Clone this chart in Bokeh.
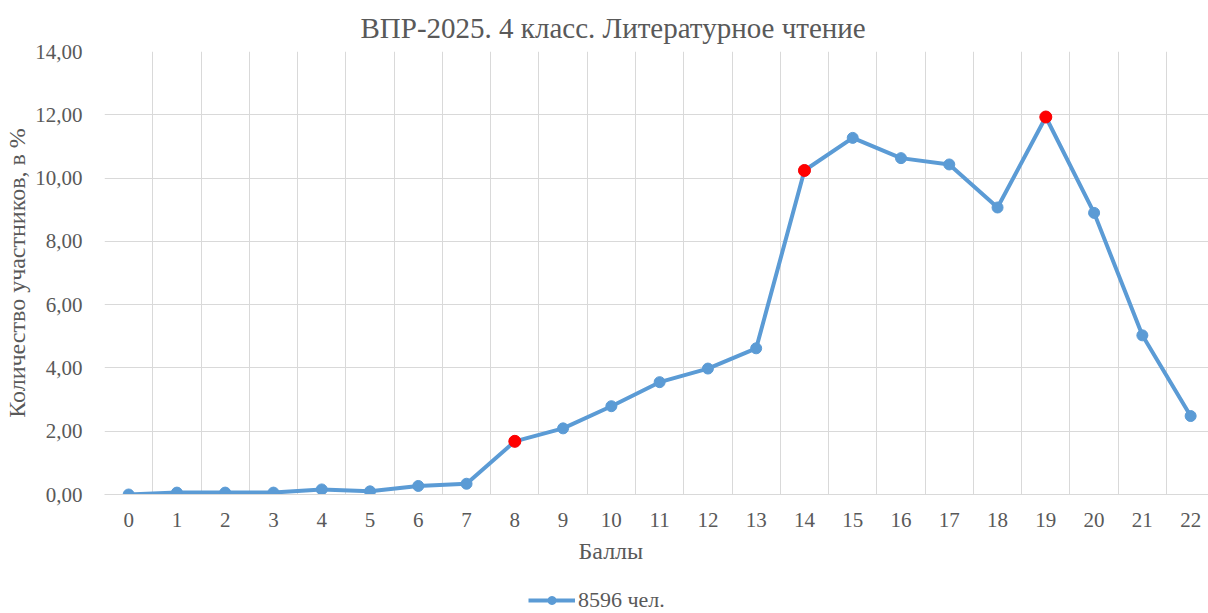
from bokeh.plotting import figure
from bokeh.layouts import column
from bokeh.models import (FixedTicker, CustomJSTickFormatter, Range1d, Legend,
                          LegendItem, ColumnDataSource, Title)
from bokeh.embed import file_html
from bokeh.resources import INLINE

scores = list(range(23))
percent = [0.00, 0.06, 0.06, 0.06, 0.16, 0.10, 0.27, 0.34, 1.68, 2.09, 2.79,
           3.55, 3.98, 4.62, 10.24, 11.27, 10.63, 10.43, 9.07, 11.93, 8.90,
           5.03, 2.48]
highlight_scores = [8, 14, 19]
highlight_percent = [percent[s] for s in highlight_scores]
series_name = "8596 чел."
title_text = "ВПР-2025. 4 класс. Литературное чтение"
x_label = "Баллы"
y_label = "Количество участников, в %"

FONT = "Liberation Serif"
TXT = "#595959"
GRID = "#D9D9D9"
BLUE = "#5B9BD5"

p = figure(width=1208, height=585, output_backend="svg", toolbar_location=None,
           x_range=Range1d(-0.5, 22.37), y_range=Range1d(0, 14),
           min_border_left=104, min_border_right=0, min_border_top=51,
           min_border_bottom=91)
p.outline_line_color = None

p.title.text = title_text
p.title.align = "left"
p.title.offset = 256
p.title.text_font = FONT
p.title.text_font_size = "29px"
p.title.text_font_style = "normal"
p.title.text_color = TXT
p.title.standoff = 16

# grid
p.xgrid.ticker = FixedTicker(ticks=[i + 0.5 for i in range(-1, 23)])
p.xgrid.grid_line_color = GRID
p.xgrid.grid_line_width = 1
p.ygrid.grid_line_color = GRID
p.ygrid.grid_line_width = 1

# x axis
p.xaxis.ticker = FixedTicker(ticks=scores)
p.xaxis.major_tick_line_color = None
p.xaxis.minor_tick_line_color = None
p.xaxis.axis_line_color = GRID
p.xaxis.major_label_text_font = FONT
p.xaxis.major_label_text_font_size = "21px"
p.xaxis.major_label_text_color = TXT
p.xaxis.major_label_standoff = 12

xt = Title(text=x_label, align="left", offset=474, text_font=FONT,
           text_font_size="24px", text_font_style="normal", text_color=TXT,
           standoff=13)
p.add_layout(xt, "below")

# y axis
p.yaxis.ticker = FixedTicker(ticks=[0, 2, 4, 6, 8, 10, 12, 14])
p.yaxis.formatter = CustomJSTickFormatter(code="return tick.toFixed(2).replace('.', ',');")
p.yaxis.major_tick_line_color = None
p.yaxis.minor_tick_line_color = None
p.yaxis.axis_line_color = None
p.yaxis.major_label_text_font = FONT
p.yaxis.major_label_text_font_size = "21px"
p.yaxis.major_label_text_color = TXT
p.yaxis.major_label_standoff = 16
p.yaxis.axis_label = y_label
p.yaxis.axis_label_text_font = FONT
p.yaxis.axis_label_text_font_size = "24px"
p.yaxis.axis_label_text_font_style = "normal"
p.yaxis.axis_label_text_color = TXT
p.yaxis.axis_label_standoff = 2

src = ColumnDataSource(dict(x=scores, y=percent))
p.line("x", "y", source=src, line_color=BLUE, line_width=4)
p.scatter("x", "y", source=src, size=11, fill_color=BLUE, line_color=BLUE)
p.scatter(highlight_scores, highlight_percent, size=12, fill_color="#FF0000",
          line_color="#FF0000")

# legend strip below the chart (series drawn out of view; only its legend shows)
p2 = figure(width=1208, height=28, output_backend="svg", toolbar_location=None,
            x_range=Range1d(0, 1), y_range=Range1d(100, 101), min_border=0,
            x_axis_location=None, y_axis_location=None)
p2.outline_line_color = None
p2.grid.visible = False
ln2 = p2.line("x", "y", source=src, line_color=BLUE, line_width=4)
pt2 = p2.scatter("x", "y", source=src, size=11, fill_color=BLUE, line_color=BLUE)
legend = Legend(items=[LegendItem(label=series_name, renderers=[ln2, pt2])],
                orientation="horizontal", location=(424, 0),
                border_line_color=None, background_fill_alpha=0,
                label_text_font=FONT, label_text_font_size="22px",
                label_text_color=TXT, glyph_width=47, glyph_height=20,
                label_standoff=3, padding=0, margin=0, spacing=0)
p2.add_layout(legend, "center")

layout = column(p, p2, spacing=0)
open("out.html", "w").write(file_html(layout, INLINE))
